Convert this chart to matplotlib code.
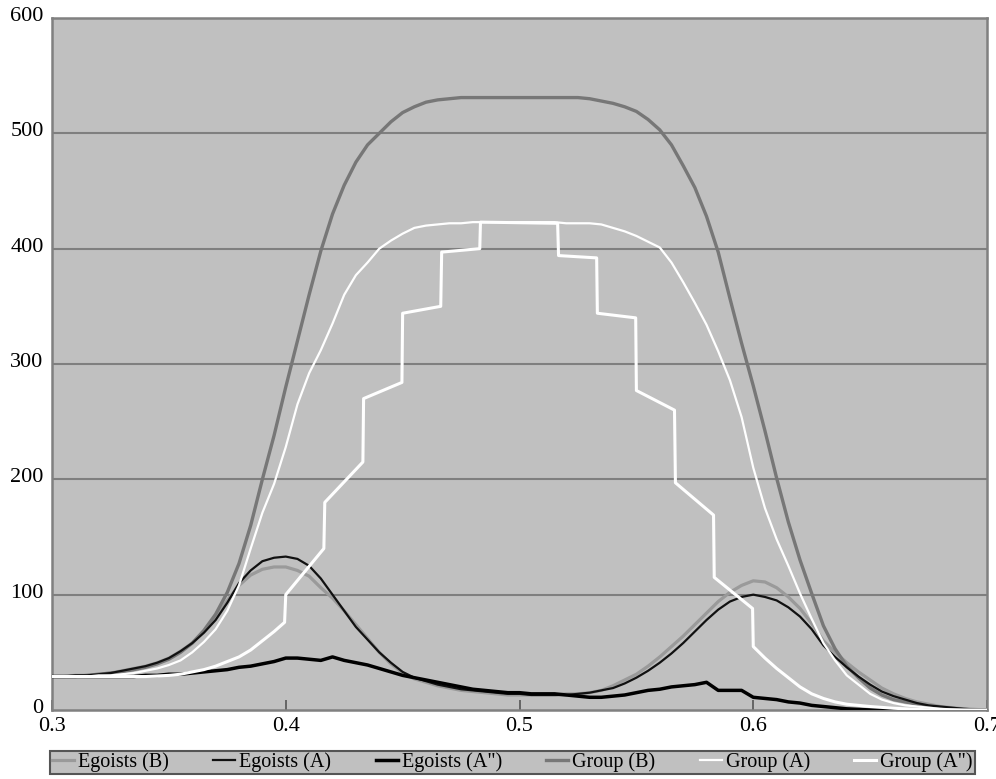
import numpy as np
import matplotlib
matplotlib.use("Agg")
import matplotlib.pyplot as plt
from matplotlib.transforms import ScaledTranslation

# ---- data -------------------------------------------------------------
x = np.round(np.arange(0.300, 0.7001, 0.005), 3)

egoists_b = [29, 29, 30, 30, 31, 32, 34, 36, 38, 41,
             45, 51, 58, 68, 80, 95, 108, 117, 122, 124,
             124, 121, 116, 106, 97, 86, 74, 62, 50, 40,
             32, 27, 24, 21, 19, 17, 16, 15, 14, 13,
             13, 13, 13, 13, 14, 14, 15, 17, 21, 26,
             31, 38, 46, 55, 64, 74, 84, 94, 102, 108,
             112, 111, 106, 98, 88, 75, 60, 50, 41, 33,
             26, 19, 14, 10, 7, 5, 3, 2, 1, 0.5,
             0]

egoists_a = [29, 29, 30, 30, 31, 32, 34, 36, 38, 41,
             45, 51, 58, 67, 78, 93, 110, 121, 129, 132,
             133, 131, 125, 114, 100, 86, 72, 61, 50, 41,
             33, 28, 25, 22, 20, 18, 17, 16, 15, 14,
             14, 13, 13, 13, 13, 14, 15, 17, 19, 23,
             28, 34, 41, 49, 58, 68, 78, 87, 94, 98,
             100, 98, 95, 89, 81, 70, 56, 46, 37, 29,
             22, 16, 12, 9, 6, 4, 3, 2, 1, 0.5,
             0]

egoists_a2 = [29, 29, 29, 29, 29, 29, 29, 29, 30, 30,
              31, 31, 32, 33, 34, 35, 37, 38, 40, 42,
              45, 45, 44, 43, 46, 43, 41, 39, 36, 33,
              30, 28, 26, 24, 22, 20, 18, 17, 16, 15,
              15, 14, 14, 14, 13, 12, 11, 11, 12, 13,
              15, 17, 18, 20, 21, 22, 24, 17, 17, 17,
              11, 10, 9, 7, 6, 4, 3, 2, 1, 0.5,
              0, 0, 0, 0, 0, 0, 0, 0, 0, 0,
              0]

group_b = [29, 29, 29, 30, 31, 32, 33, 35, 37, 40,
           44, 50, 58, 69, 83, 102, 127, 160, 200, 238,
           280, 320, 360, 398, 430, 455, 475, 490, 500, 510,
           518, 523, 527, 529, 530, 531, 531, 531, 531, 531,
           531, 531, 531, 531, 531, 531, 530, 528, 526, 523,
           519, 512, 503, 490, 472, 453, 428, 397, 357, 318,
           281, 242, 201, 163, 130, 101, 73, 53, 38, 28,
           19, 13, 9, 7, 5, 3, 2, 1, 0.5, 0,
           0]

group_a = [29, 29, 29, 29, 30, 30, 31, 32, 34, 36,
           39, 43, 50, 59, 70, 86, 108, 140, 171, 196,
           228, 265, 292, 312, 335, 360, 377, 388, 400, 407,
           413, 418, 420, 421, 422, 422, 423, 423, 423, 423,
           423, 423, 423, 423, 422, 422, 422, 421, 418, 415,
           411, 406, 401, 388, 371, 353, 334, 311, 286, 254,
           210, 175, 148, 125, 101, 79, 58, 43, 30, 22,
           14, 9, 6, 4, 3, 2, 1, 0.5, 0, 0,
           0]

# Group (A") is a coarse staircase: its own sample positions
group_a2_x = [0.300, 0.340, 0.350, 0.355, 0.360, 0.365, 0.370, 0.375, 0.380,
              0.385, 0.390, 0.395, 0.3995, 0.4000, 0.4163, 0.4167, 0.4330,
              0.4333, 0.4497, 0.4500, 0.4663, 0.4667, 0.4830, 0.4833, 0.5163,
              0.5167, 0.5330, 0.5333, 0.5497, 0.5500, 0.5663, 0.5667, 0.5830,
              0.5833, 0.5997, 0.6000, 0.605, 0.610, 0.615, 0.620, 0.625, 0.630,
              0.635, 0.640, 0.650, 0.660, 0.670, 0.680, 0.700]
group_a2_y = [29, 29, 30, 31, 33, 35, 38, 42, 46,
              52, 60, 68, 76, 100, 140, 180, 215,
              270, 284, 344, 350, 397, 400, 423, 422,
              394, 392, 344, 340, 277, 260, 197, 169,
              115, 88, 55, 45, 36, 28, 20, 14, 10,
              7, 5, 3, 1.5, 0.5, 0, 0]

labels = ['Egoists (B)', 'Egoists (A)', 'Egoists (A")',
          'Group (B)', 'Group (A)', 'Group (A")']
x_ticks = [0.3, 0.4, 0.5, 0.6, 0.7]
y_ticks = [0, 100, 200, 300, 400, 500, 600]

# ---- figure -------------------------------------------------------------
plt.rcParams['font.family'] = ['Liberation Serif', 'DejaVu Serif']

fig = plt.figure(figsize=(9.96, 7.79), dpi=100)
ax = fig.add_axes([0.0522, 0.0886, 0.9388, 0.8883])
ax.set_facecolor('#c0c0c0')

grid_c = '#7f7f7f'
for v in y_ticks[1:-1]:
    ax.axhline(v, color=grid_c, lw=1.5, zorder=1)

ax.plot(x, egoists_b, color='#9a9a9a', lw=2.3, zorder=3, label=labels[0])
ax.plot(x, egoists_a, color='#111111', lw=1.6, zorder=4, label=labels[1])
ax.plot(x, egoists_a2, color='#000000', lw=2.5, zorder=4, label=labels[2])
ax.plot(x, group_b, color='#777777', lw=2.4, zorder=3, label=labels[3])
ax.plot(x, group_a, color='#ffffff', lw=1.6, zorder=5, label=labels[4])
ax.plot(group_a2_x, group_a2_y, color='#ffffff', lw=2.2, zorder=5,
        label=labels[5])

ax.set_xlim(0.3, 0.7)
ax.set_ylim(0, 600)
ax.set_xticks(x_ticks)
ax.set_xticklabels([f'{t:.1f}' for t in x_ticks])
ax.set_yticks(y_ticks)
ax.set_yticklabels([str(t) for t in y_ticks])

ax.tick_params(axis='x', direction='in', length=7, width=1.2,
               color='#555555', labelsize=16, pad=5)
ax.tick_params(axis='y', length=0, labelsize=16, pad=6)
up = ScaledTranslation(0, 4 / 100, fig.dpi_scale_trans)
for lab in ax.get_yticklabels():
    lab.set_transform(lab.get_transform() + up)
for s in ax.spines.values():
    s.set_color('#808080')
    s.set_linewidth(1.8)

leg = fig.legend(loc='lower left', ncol=6,
                 bbox_to_anchor=(50 / 996, 0.006, 925 / 996, 0.03),
                 mode='expand', fontsize=14.5, handlelength=1.1,
                 handletextpad=0.2, borderpad=0.1, frameon=True,
                 fancybox=False, borderaxespad=0)
frame = leg.get_frame()
frame.set_facecolor('#c0c0c0')
frame.set_edgecolor('#555555')
frame.set_linewidth(1.5)
frame.set_alpha(1)

fig.savefig('out.png', dpi=100)
